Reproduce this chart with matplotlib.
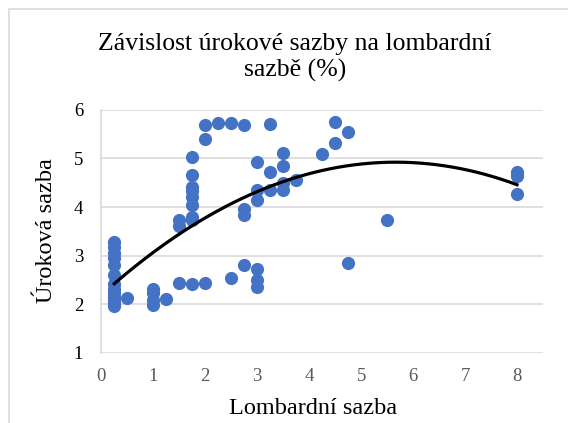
import numpy as np
import matplotlib
matplotlib.use("Agg")
import matplotlib.pyplot as plt
from matplotlib.patches import Rectangle

# data: lombard rate vs interest rate
lombard = [0.25, 0.25, 0.25, 0.25, 0.25, 0.25, 0.25, 0.25, 0.25, 0.25, 0.25, 0.25, 0.25, 0.25,
           0.5,
           1, 1, 1, 1,
           1.25,
           1.5, 1.5, 1.5,
           1.75, 1.75, 1.75, 1.75, 1.75, 1.75, 1.75, 1.75, 1.75,
           2, 2, 2,
           2.25,
           2.5, 2.5,
           2.75, 2.75, 2.75, 2.75,
           3, 3, 3, 3, 3, 3,
           3.25, 3.25, 3.25,
           3.5, 3.5, 3.5, 3.5,
           3.75,
           4.25,
           4.5, 4.5,
           4.75, 4.75,
           5.5,
           8, 8, 8, 8]
urok = [3.28, 3.17, 3.06, 2.95, 2.8, 2.6, 2.42, 2.32, 2.22, 2.15, 2.1, 2.04, 2.0, 1.97,
        2.12,
        2.31, 2.22, 2.08, 1.98,
        2.1,
        2.43, 3.73, 3.6,
        2.41, 5.04, 4.66, 4.42, 4.32, 4.21, 4.04, 3.8, 3.73,
        2.44, 5.68, 5.4,
        5.73,
        5.73, 2.54,
        5.69, 2.8, 3.95, 3.84,
        4.92, 4.35, 4.14, 2.73, 2.49, 2.36,
        5.71, 4.73, 4.35,
        5.11, 4.85, 4.5, 4.35,
        4.56,
        5.09,
        5.75, 5.31,
        5.54, 2.85,
        3.73,
        4.72, 4.68, 4.64, 4.26]

x = np.array(lombard)
y = np.array(urok)

serif = "Liberation Serif"
fig = plt.figure(figsize=(5.68, 4.23), dpi=100)
ax = fig.add_axes([0.1783, 0.1662, 0.7777, 0.574])

ax.scatter(x, y, s=90, color="#4472C4", zorder=3, linewidths=0)

# polynomial trendline of order 2, like Excel
coef = np.polyfit(x, y, 2)
xs = np.linspace(x.min(), x.max(), 200)
ax.plot(xs, np.polyval(coef, xs), color="black", lw=2.3, zorder=4)

ax.set_xlim(0, 8.5)
ax.set_ylim(1, 6)
ax.set_xticks(range(0, 9))
ax.set_yticks(range(1, 7))
ax.grid(axis="y", color="#D9D9D9", lw=1.2)
ax.set_axisbelow(True)
for s in ["top", "right", "bottom"]:
    ax.spines[s].set_visible(False)
ax.spines["left"].set_color("#D9D9D9")
ax.spines["left"].set_linewidth(1.2)
ax.tick_params(axis="x", length=0, pad=11)
ax.tick_params(axis="y", length=0, pad=13)
for lab in ax.get_xticklabels():
    lab.set_fontfamily(serif)
    lab.set_fontsize(13.5)
    lab.set_color("#595959")
for lab in ax.get_yticklabels():
    lab.set_fontfamily(serif)
    lab.set_fontsize(13.5)
    lab.set_color("black")

fig.text(313 / 568, 1 - 408 / 423, "Lombardní sazba", ha="center", va="center",
         fontfamily=serif, fontsize=17.5)
fig.text(47 / 568, 1 - 231 / 423, "Úroková sazba", ha="center", va="center",
         rotation=90, fontfamily=serif, fontsize=17.5)

fig.text(0.519, 0.864, "Závislost úrokové sazby na lombardní\nsazbě (%)",
         ha="center", va="center", fontfamily=serif, fontsize=18.5,
         linespacing=1.25)

# chart area border
fig.patches.append(Rectangle((9 / 568, -0.1), 1.2, 1 - 9 / 423 + 0.1,
                             transform=fig.transFigure, fill=False,
                             edgecolor="#D9D9D9", lw=1.2))

fig.savefig("out.png", dpi=100)
